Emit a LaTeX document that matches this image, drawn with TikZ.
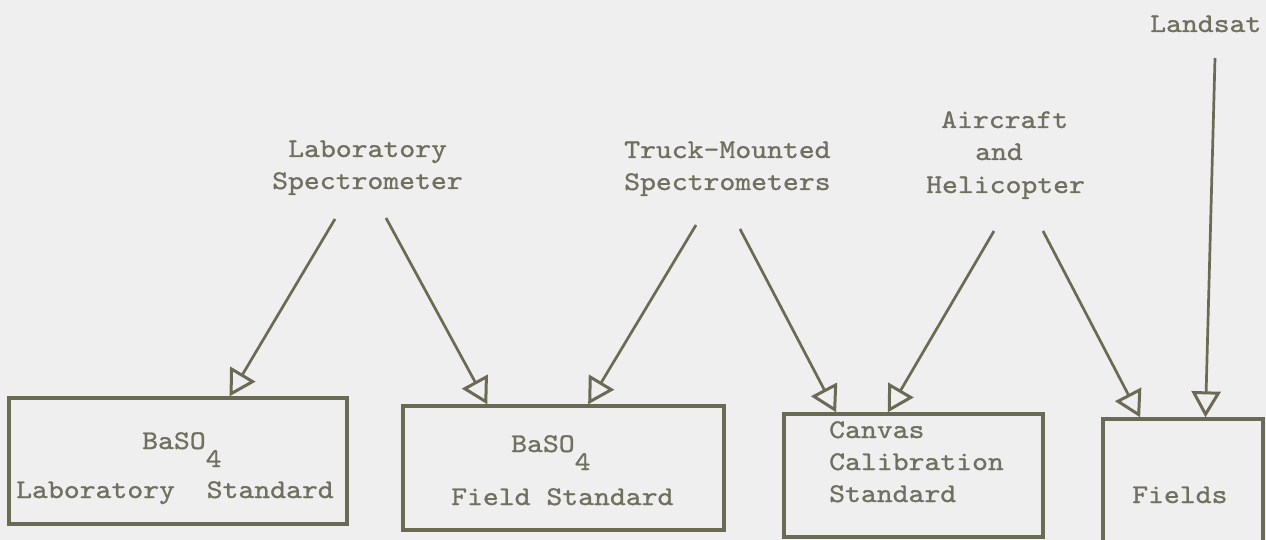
\documentclass[tikz,border=0pt]{standalone}
\usepackage{fontspec}
\newfontfamily\tw{lmmono10-regular.otf}[FakeStretch=1.12, FakeBold=1]
\usetikzlibrary{arrows.meta,calc}
\definecolor{ink}{HTML}{6B6B55}
\definecolor{type}{HTML}{707060}
\definecolor{paper}{HTML}{EFEFEF}
% one blank typewriter cell
\newcommand\tsp{\phantom{x}}
% half-line-down subscript of the typewriter
\newcommand\lowered[1]{\raisebox{-18pt}[0pt][0pt]{#1}}

\begin{document}
\begin{tikzpicture}[x=1pt,y=-1pt,
  typed/.style={inner sep=0pt, anchor=base west, text=type,
    font=\tw\fontsize{27}{32}\selectfont},
  stdbox/.style={draw=ink, line width=3.3pt, inner sep=0pt},
  feed/.style={draw=ink, line width=2.7pt,
    -{Triangle[open, length=26pt, width=29pt, line width=3pt]}}
]
\fill[paper] (0,0) rectangle (1266,540);
\useasboundingbox (0,0) rectangle (1266,540);
\clip (0,0) rectangle (1266,540);

% standards and targets
\node[stdbox, minimum width=338pt, minimum height=126pt] (lab) at (178,461) {};
\node[stdbox, minimum width=321pt, minimum height=124pt] (fld) at (563.5,468) {};
\node[stdbox, minimum width=259pt, minimum height=123pt] (cnv) at (913.5,475.5) {};
\node[stdbox, minimum width=160pt, minimum height=130pt] (fields) at (1183,484) {};

% instrument labels
\node[typed] (landsat) at (1150,32) {Landsat};
\node[typed] (air1) at (941,128) {Aircraft};
\node[typed] (air2) at (975,160) {and};
\node[typed] (air3) at (926,193) {Helicopter};
\node[typed] (ls1) at (288,157) {Laboratory};
\node[typed] (ls2) at (272,189) {Spectrometer};
\node[typed] (tm1) at (624,158) {Truck-Mounted};
\node[typed] (tm2) at (624,190) {Spectrometers};

% box texts
\node[typed] (lab1) at (142,449) {BaSO\lowered{4}};
\node[typed] (lab2) at (16,498) {Laboratory\tsp\tsp Standard};
\node[typed] (fld1) at (511,452) {BaSO\lowered{4}};
\node[typed] (fld2) at (451,505) {Field\tsp Standard};
\node[typed] (cnv1) at (829,438) {Canvas};
\node[typed] (cnv2) at (829,470) {Calibration};
\node[typed] (cnv3) at (829,502) {Standard};
\node[typed] (fields1) at (1132,503) {Fields};

% arrow start points below the labels
\coordinate (s1) at (335,219);
\coordinate (s2) at (386,218);
\coordinate (s3) at (696,225);
\coordinate (s4) at (740,229);
\coordinate (s5) at (994,231);
\coordinate (s6) at (1043,231);
\coordinate (s7) at (1215,58);

\draw[feed] (s1) -- ($(lab.north west)!0.651!(lab.north east)$);
\draw[feed] (s2) -- ($(fld.north west)!0.265!(fld.north east)$);
\draw[feed] (s3) -- ($(fld.north west)!0.576!(fld.north east)$);
\draw[feed] (s4) -- ($(cnv.north west)!0.205!(cnv.north east)$);
\draw[feed] (s5) -- ($(cnv.north west)!0.402!(cnv.north east)$);
\draw[feed] (s6) -- ($(fields.north west)!0.2375!(fields.north east)$);
\draw[feed] (s7) -- ($(fields.north west)!0.6375!(fields.north east)$);
\end{tikzpicture}
\end{document}
